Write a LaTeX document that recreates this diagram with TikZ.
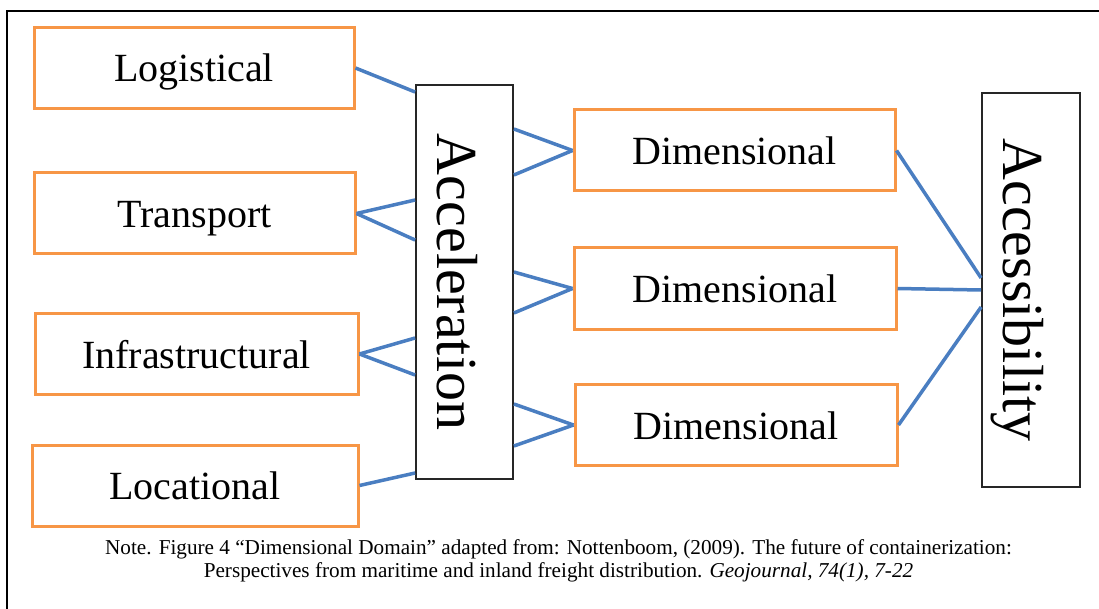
\documentclass[tikz,border=0pt]{standalone}
\usepackage{fontspec}
\setmainfont{Liberation Serif}
\usetikzlibrary{calc}
\definecolor{boxorange}{RGB}{247,150,70}
\definecolor{linkblue}{RGB}{74,126,193}
\begin{document}
\begin{tikzpicture}[x=1pt,y=-1pt,
  cat/.style={draw=boxorange,line width=3pt,fill=white,inner sep=0pt,minimum height=81pt,text height=28pt,text depth=0pt,font=\fontsize{40}{44}\selectfont},
  hubbox/.style={draw=black!85,line width=1.8pt,fill=white,inner sep=0pt,minimum width=97pt,minimum height=394pt},
  hubtext/.style={rotate=-90,inner sep=0pt,text height=55pt,text depth=0pt,font=\fontsize{58}{60}\selectfont},
  notetext/.style={anchor=base,inner sep=0pt,font=\fontsize{21.2}{24}\selectfont},
  link/.style={draw=linkblue,line width=3.5pt}]
\useasboundingbox (0,0) rectangle (1099,609);
\draw[line width=1.8pt] (7,609) -- (7,11) -- (1099,11);

\node[cat,minimum width=320pt] (log) at (194,68) {Logistical};
\node[cat,minimum width=321pt] (trn) at (194.5,213.5) {Transport};
\node[cat,minimum width=323pt] (inf) at (196.5,354) {Infrastructural};
\node[cat,minimum width=326pt] (loc) at (195,485.5) {Locational};

\node[hubbox] (acc) at (464.5,282) {};
\node[hubtext] (acctxt) at (acc.center) {Acceleration};

\node[cat,minimum width=321pt] (d1) at (734.5,150.5) {Dimensional};
\node[cat,minimum width=322pt] (d2) at (735,288.5) {Dimensional};
\node[cat,minimum width=322pt] (d3) at (736,425) {Dimensional};

\node[hubbox,minimum width=98pt] (acs) at (1031,290) {};
\node[hubtext] (acstxt) at (acs.center) {Accessibility};

\draw[link] (log.east) -- (acc.west |- 0,92);
\draw[link] (trn.east) -- (acc.west |- 0,200);
\draw[link] (trn.east) -- (acc.west |- 0,240);
\draw[link] (inf.east) -- (acc.west |- 0,338);
\draw[link] (inf.east) -- (acc.west |- 0,375);
\draw[link] (loc.east) -- (acc.west |- 0,473);

\draw[link] (acc.east |- 0,129) -- (d1.west);
\draw[link] (acc.east |- 0,175) -- (d1.west);
\draw[link] (acc.east |- 0,272) -- (d2.west);
\draw[link] (acc.east |- 0,313) -- (d2.west);
\draw[link] (acc.east |- 0,404) -- (d3.west);
\draw[link] (acc.east |- 0,446) -- (d3.west);

\draw[link] (d1.east) -- (acs.west |- 0,278);
\draw[link] (d2.east) -- (acs.west |- 0,290);
\draw[link] (d3.east) -- (acs.west |- 0,307);

\node[notetext] (note1) at (558.5,554)
  {Note. Figure 4 “Dimensional Domain” adapted from: Nottenboom, (2009). The future of containerization:};
\node[notetext] (note2) at (558.5,577)
  {Perspectives from maritime and inland freight distribution. \textit{Geojournal, 74(1), 7-22}};
\end{tikzpicture}
\end{document}
